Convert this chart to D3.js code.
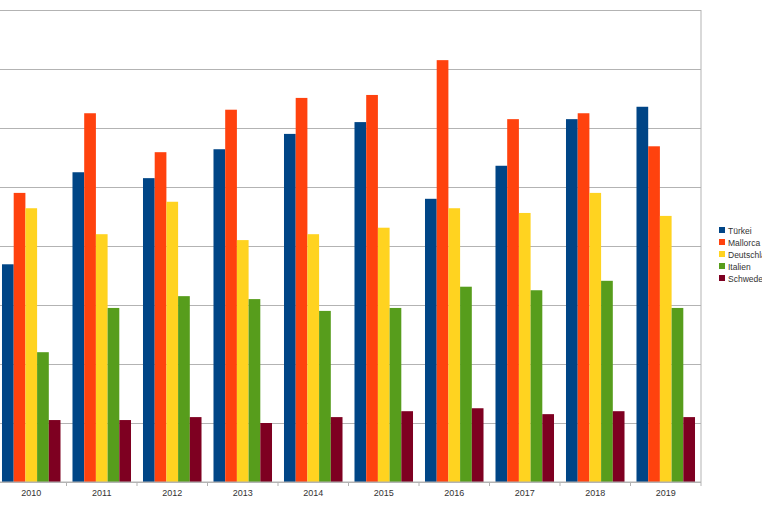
<!DOCTYPE html>
<html>
<head>
<meta charset="utf-8">
<script src="https://cdn.jsdelivr.net/npm/d3@7"></script>
<style>
  body { margin: 0; background: #fff; overflow: hidden; }
  text { font-family: "Liberation Sans", Arial, sans-serif; }
</style>
</head>
<body>
<div id="chart"></div>
<script>
// categories and series
var years = ["2010", "2011", "2012", "2013", "2014", "2015", "2016", "2017", "2018", "2019"];
var seriesNames = ["Türkei", "Mallorca", "Deutschland", "Italien", "Schweden"];
var tuerkei     = [36.9, 52.5, 51.5, 56.4, 59.0, 61.0, 48.0, 53.6, 61.5, 63.6];
var mallorca    = [49.0, 62.5, 55.9, 63.1, 65.1, 65.6, 71.5, 61.5, 62.5, 56.9];
var deutschland = [46.4, 42.0, 47.5, 41.0, 42.0, 43.1, 46.4, 45.6, 49.0, 45.1];
var italien     = [22.0, 29.5, 31.5, 31.0, 29.0, 29.5, 33.1, 32.5, 34.1, 29.5];
var schweden    = [10.5, 10.5, 11.0, 10.0, 11.0, 12.0, 12.5, 11.5, 12.0, 11.0];
var yTicks = [0, 10, 20, 30, 40, 50, 60, 70, 80];

var colors = ["#004586", "#ff420e", "#ffd320", "#579d1c", "#7e0021"];
var allSeries = [tuerkei, mallorca, deutschland, italien, schweden];

var svgWidth = 762, svgHeight = 508;
// plot area (left edge sits just outside the window, like the reference)
var margin = { top: 10, left: -4, right: 61, bottom: 26 };
var width = svgWidth - margin.left - margin.right;
var height = svgHeight - margin.top - margin.bottom;

var svg = d3.select("#chart").append("svg")
  .attr("width", svgWidth)
  .attr("height", svgHeight);

var chartGroup = svg.append("g")
  .attr("transform", `translate(${margin.left}, ${margin.top})`);

var x0 = d3.scaleBand()
  .domain(years)
  .range([0, width])
  .paddingInner(0.17)
  .paddingOuter(0.085);

var x1 = d3.scaleBand()
  .domain(seriesNames)
  .range([0, x0.bandwidth()]);

var yScale = d3.scaleLinear()
  .domain([0, 80])
  .range([height, 0]);

// gridlines
chartGroup.append("g")
  .call(d3.axisLeft(yScale).tickValues(yTicks).tickSize(-width).tickFormat(""))
  .call(g => g.select(".domain").remove())
  .call(g => g.selectAll("line").attr("stroke", "#b3b3b3"));

// right border
chartGroup.append("line")
  .attr("x1", width).attr("x2", width)
  .attr("y1", 0).attr("y2", height)
  .attr("stroke", "#b3b3b3");

// bars
var groups = chartGroup.selectAll(".year")
  .data(years)
  .enter().append("g")
  .attr("transform", d => `translate(${x0(d)}, 0)`);

groups.selectAll("rect")
  .data((d, i) => seriesNames.map((s, j) => ({ name: s, value: allSeries[j][i], idx: j })))
  .enter().append("rect")
  .attr("x", d => x1(d.name))
  .attr("width", x1.bandwidth())
  .attr("y", d => yScale(d.value))
  .attr("height", d => height - yScale(d.value))
  .attr("fill", d => colors[d.idx]);

// x axis with ticks at category boundaries
var step = x0.step();
var xAxis = chartGroup.append("g")
  .attr("transform", `translate(0, ${height})`);
xAxis.append("line")
  .attr("x1", 0).attr("x2", width)
  .attr("stroke", "#b3b3b3");
xAxis.selectAll(".tick")
  .data(d3.range(years.length + 1))
  .enter().append("line")
  .attr("x1", i => i * step).attr("x2", i => i * step)
  .attr("y1", 0).attr("y2", 4)
  .attr("stroke", "#b3b3b3");
xAxis.selectAll("text")
  .data(years)
  .enter().append("text")
  .attr("x", d => x0(d) + x0.bandwidth() / 2)
  .attr("y", 14)
  .attr("text-anchor", "middle")
  .attr("font-size", "9px")
  .attr("fill", "#333")
  .text(d => d);

// legend (the right part of the longer names runs off the page, as in the reference)
var legend = svg.append("g")
  .attr("transform", "translate(719, 227)");
seriesNames.forEach(function(s, i) {
  legend.append("rect")
    .attr("x", 0).attr("y", i * 12)
    .attr("width", 6).attr("height", 6)
    .attr("fill", colors[i]);
  legend.append("text")
    .attr("x", 9).attr("y", i * 12 + 6.5)
    .attr("font-size", "8.5px")
    .attr("fill", "#333")
    .text(s);
});
</script>
</body>
</html>
